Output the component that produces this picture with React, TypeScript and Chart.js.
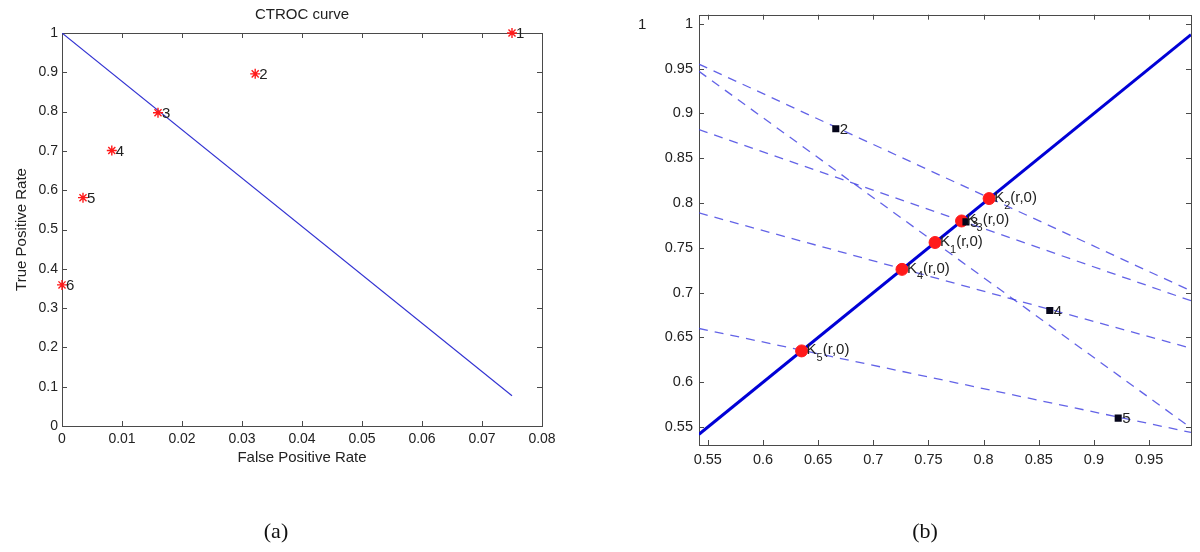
import React, { useEffect, useRef } from "react";
import { Chart, registerables } from "chart.js";

Chart.register(...registerables);

const SANS = '"Liberation Sans", Arial, Helvetica, sans-serif';
const SERIF = '"Liberation Serif", "Times New Roman", serif';
const TEXT = "#222222";
const AXIS = "#4a4a4a";

// ---------------- Panel (a): CTROC curve ----------------
const rocTitle = "CTROC curve";
const rocXTitle = "False Positive Rate";
const rocYTitle = "True Positive Rate";
const rocCaption = "(a)";
const rocPointLabels = ["1", "2", "3", "4", "5", "6"];
const rocFpr = [0.075, 0.0322, 0.016, 0.0083, 0.0035, 0.0];
const rocTpr = [1.0, 0.896, 0.797, 0.701, 0.581, 0.359];
const isoFpr = [0.0, 0.075];
const isoTpr = [1.0, 0.077];
const rocXTicks = [0, 0.01, 0.02, 0.03, 0.04, 0.05, 0.06, 0.07, 0.08];
const rocYTicks = [0, 0.1, 0.2, 0.3, 0.4, 0.5, 0.6, 0.7, 0.8, 0.9, 1];
const rocXRange = [0, 0.08];
const rocYRange = [0, 1];

// ---------------- Panel (b): zoomed view ----------------
const zoomCaption = "(b)";
const zoomXRange = [0.542, 0.988];
const zoomYRange = [0.53, 1.0102];
const zoomXTicks = [0.55, 0.6, 0.65, 0.7, 0.75, 0.8, 0.85, 0.9, 0.95];
const zoomYTicks = [0.55, 0.6, 0.65, 0.7, 0.75, 0.8, 0.85, 0.9, 0.95, 1];
const diagX = [0.542, 0.988];
const diagY = [0.542, 0.988];
const kNames = ["1", "2", "3", "4", "5"];
const kValues = [0.756, 0.805, 0.78, 0.726, 0.635];
const kSuffix = "(r,0)";
const sqNames = ["1", "2", "3", "4", "5"];
const sqX = [0.483, 0.666, 0.784, 0.86, 0.922];
const sqY = [1.0, 0.883, 0.779, 0.68, 0.56];
const isoStartX = [0.542, 0.542, 0.542, 0.542, 0.542];
const isoStartY = [0.947, 0.955, 0.882, 0.789, 0.66];
const isoEndX = [0.988, 0.988, 0.988, 0.988, 0.988];
const isoEndY = [0.549, 0.702, 0.691, 0.638, 0.544];

const fmt = (v: number) => String(Number(Number(v).toFixed(3)));

function framePlugin(xTicks: number[], yTicks: number[]) {
  return {
    id: "frameTicks",
    beforeDatasetsDraw(chart: any) {
      const { ctx, chartArea: a, scales } = chart;
      const x = scales.x;
      const y = scales.y;
      const L = 5;
      ctx.save();
      ctx.strokeStyle = AXIS;
      ctx.lineWidth = 1;
      ctx.strokeRect(Math.round(a.left) + 0.5, Math.round(a.top) + 0.5, Math.round(a.right - a.left), Math.round(a.bottom - a.top));
      ctx.beginPath();
      xTicks.forEach((v) => {
        const px = Math.round(x.getPixelForValue(v)) + 0.5;
        ctx.moveTo(px, a.bottom);
        ctx.lineTo(px, a.bottom - L);
        ctx.moveTo(px, a.top);
        ctx.lineTo(px, a.top + L);
      });
      yTicks.forEach((v) => {
        const py = Math.round(y.getPixelForValue(v)) + 0.5;
        ctx.moveTo(a.left, py);
        ctx.lineTo(a.left + L, py);
        ctx.moveTo(a.right, py);
        ctx.lineTo(a.right - L, py);
      });
      ctx.stroke();
      ctx.restore();
    },
  };
}

const rocLabelPlugin = {
  id: "rocLabels",
  afterDatasetsDraw(chart: any) {
    const { ctx, scales } = chart;
    ctx.save();
    ctx.font = `15px ${SANS}`;
    ctx.fillStyle = TEXT;
    ctx.textBaseline = "middle";
    ctx.textAlign = "left";
    rocPointLabels.forEach((t, i) => {
      ctx.fillText(t, scales.x.getPixelForValue(rocFpr[i]) + 4, scales.y.getPixelForValue(rocTpr[i]) + 1);
    });
    ctx.restore();
  },
};

const zoomLabelPlugin = {
  id: "zoomLabels",
  afterDatasetsDraw(chart: any) {
    const { ctx, scales } = chart;
    const x = scales.x;
    const y = scales.y;
    ctx.save();
    ctx.fillStyle = TEXT;
    ctx.textBaseline = "middle";
    ctx.textAlign = "left";
    const big = `15px ${SANS}`;
    const small = `11px ${SANS}`;
    kNames.forEach((n, i) => {
      const px = x.getPixelForValue(kValues[i]) + 5;
      const py = y.getPixelForValue(kValues[i]);
      ctx.font = big;
      ctx.fillText("K", px, py - 1);
      const wK = ctx.measureText("K").width;
      ctx.font = small;
      ctx.fillText(n, px + wK, py + 7);
      const wn = ctx.measureText(n).width;
      ctx.font = big;
      ctx.fillText(kSuffix, px + wK + wn, py - 1);
    });
    ctx.font = big;
    sqNames.forEach((n, i) => {
      ctx.fillText(n, x.getPixelForValue(sqX[i]) + 4, y.getPixelForValue(sqY[i]) + 1);
    });
    ctx.restore();
  },
};

function tickAxis(range: number[], ticks: number[], size: number, padding: number, extra: any) {
  return {
    type: "linear",
    min: range[0],
    max: range[1],
    grid: { display: false, drawTicks: false },
    border: { display: false },
    afterBuildTicks: (scale: any) => {
      scale.ticks = ticks.map((v) => ({ value: v }));
    },
    ticks: {
      color: TEXT,
      font: { family: SANS, size },
      padding,
      autoSkip: false,
      maxRotation: 0,
      callback: (v: any) => fmt(v),
    },
    ...extra,
  };
}

function configA(): any {
  return {
    type: "scatter",
    data: {
      datasets: [
        {
          data: rocFpr.map((v, i) => ({ x: v, y: rocTpr[i] })),
          pointStyle: "star",
          pointRadius: 5,
          borderColor: "#ff1a1a",
          backgroundColor: "#ff1a1a",
          borderWidth: 1.4,
          clip: false,
          order: 0,
        },
        {
          data: isoFpr.map((v, i) => ({ x: v, y: isoTpr[i] })),
          showLine: true,
          pointRadius: 0,
          borderColor: "#3232d2",
          borderWidth: 1.1,
          order: 1,
        },
      ],
    },
    options: {
      responsive: false,
      animation: false,
      events: [],
      devicePixelRatio: 1,
      layout: { padding: { left: 10, right: 58, top: 0, bottom: 6.8 } },
      plugins: {
        legend: { display: false },
        tooltip: { enabled: false },
        title: {
          display: true,
          text: rocTitle,
          fullSize: false,
          color: TEXT,
          font: { family: SANS, size: 15, weight: "normal", lineHeight: 1.2 },
          padding: { top: 6, bottom: 9 },
        },
        subtitle: {
          display: true,
          text: rocCaption,
          position: "bottom",
          fullSize: true,
          color: "#111",
          font: { family: SERIF, size: 22, weight: "normal", lineHeight: 1.2 },
          padding: { top: 46.8, bottom: 0 },
        },
      },
      scales: {
        x: tickAxis(rocXRange, rocXTicks, 14, 5, {
          title: {
            display: true,
            text: rocXTitle,
            color: TEXT,
            font: { family: SANS, size: 15, lineHeight: 1.2 },
            padding: { top: 0, bottom: 5 },
          },
          afterFit: (s: any) => {
            s.height = 46;
          },
        }),
        y: tickAxis(rocYRange, rocYTicks, 14, 4, {
          title: {
            display: true,
            text: rocYTitle,
            color: TEXT,
            font: { family: SANS, size: 15, lineHeight: 1.2 },
            padding: { top: 3, bottom: 0 },
          },
          afterFit: (s: any) => {
            s.width = 52;
          },
        }),
      },
    },
    plugins: [framePlugin(rocXTicks, rocYTicks), rocLabelPlugin],
  };
}

function configB(): any {
  const dashed = isoStartX.map((sx, i) => ({
    data: [
      { x: sx, y: isoStartY[i] },
      { x: isoEndX[i], y: isoEndY[i] },
    ],
    showLine: true,
    pointRadius: 0,
    borderColor: "rgba(60,60,225,0.8)",
    borderWidth: 1.3,
    borderDash: [9, 7],
    order: 3,
  }));
  return {
    type: "scatter",
    data: {
      datasets: [
        {
          data: sqX.map((v, i) => ({ x: v, y: sqY[i] })),
          pointStyle: "rect",
          pointRadius: 5,
          borderColor: "#05051a",
          backgroundColor: "#05051a",
          borderWidth: 0,
          clip: 4,
          order: 0,
        },
        {
          data: kValues.map((v) => ({ x: v, y: v })),
          pointStyle: "circle",
          pointRadius: 6,
          borderColor: "#ff1a1a",
          backgroundColor: "#ff1a1a",
          borderWidth: 1,
          order: 1,
        },
        {
          data: diagX.map((v, i) => ({ x: v, y: diagY[i] })),
          showLine: true,
          pointRadius: 0,
          borderColor: "#0000d6",
          borderWidth: 3,
          order: 2,
        },
        ...dashed,
      ],
    },
    options: {
      responsive: false,
      animation: false,
      events: [],
      devicePixelRatio: 1,
      layout: { padding: { left: 59, right: 9, top: 9, bottom: 6.8 } },
      plugins: {
        legend: { display: false },
        tooltip: { enabled: false },
        title: { display: false },
        subtitle: {
          display: true,
          text: zoomCaption,
          position: "bottom",
          fullSize: true,
          color: "#111",
          font: { family: SERIF, size: 22, weight: "normal", lineHeight: 1.2 },
          padding: { top: 43.8, bottom: 0 },
        },
      },
      scales: {
        x: tickAxis(zoomXRange, zoomXTicks, 14.5, 6, {
          afterFit: (s: any) => {
            s.height = 30;
          },
        }),
        y: tickAxis(zoomYRange, zoomYTicks, 14.5, 6, {
          afterFit: (s: any) => {
            s.width = 40;
          },
        }),
      },
    },
    plugins: [framePlugin(zoomXTicks, zoomYTicks), zoomLabelPlugin],
  };
}

export default function App() {
  const aRef = useRef<HTMLCanvasElement>(null);
  const bRef = useRef<HTMLCanvasElement>(null);
  useEffect(() => {
    const a = new Chart(aRef.current as HTMLCanvasElement, configA());
    const b = new Chart(bRef.current as HTMLCanvasElement, configB());
    return () => {
      a.destroy();
      b.destroy();
    };
  }, []);
  return (
    <div style={{ position: "absolute", left: 0, top: 0, width: 1200, height: 552, background: "#ffffff", overflow: "hidden" }}>
      <canvas ref={aRef} width={600} height={552} style={{ position: "absolute", left: 0, top: 0, width: 600, height: 552 }} />
      <canvas ref={bRef} width={600} height={552} style={{ position: "absolute", left: 600, top: 0, width: 600, height: 552 }} />
    </div>
  );
}
